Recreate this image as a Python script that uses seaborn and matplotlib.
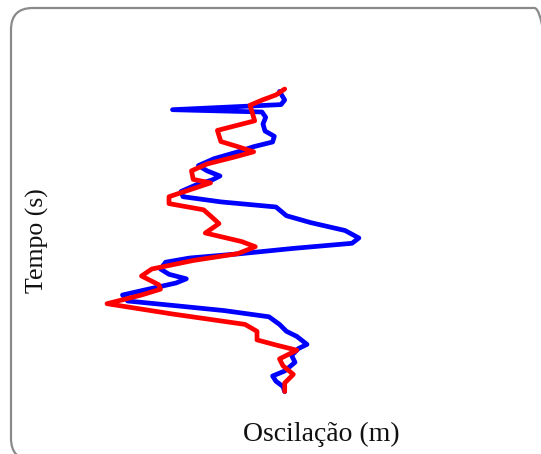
import pandas as pd
import matplotlib.pyplot as plt
import seaborn as sns
from matplotlib.patches import FancyBboxPatch

# values (oscillation across, time downwards)
blue_osc = [279.5, 284.7, 281, 172.5, 262, 265.7, 263, 265, 274.3, 272.6, 253.6, 238, 214,
            198.4, 207, 220, 212, 196.7, 181, 183, 221, 276, 286.4, 310.6, 345, 358.9, 352,
            293.3, 241.5, 189.8, 165.6, 160.5, 169, 186.3, 176, 145, 122.5, 127.7, 172.5,
            224.3, 269, 279.5, 286.4, 296.8, 307, 298.5, 291.6, 295, 284.7, 272.6, 276, 283, 284.7]
blue_time = [91.4, 100, 104.6, 109.7, 112, 117.3, 124, 131, 136.3, 142, 146.7, 151.8, 158.7,
             165.6, 170.8, 176, 180, 184.6, 191.5, 196.7, 201.9, 207, 215.7, 222.6, 230.5, 238,
             243.3, 248.4, 253.6, 258, 262.2, 269, 274.3, 278.8, 283, 289.9, 295, 301, 305.4,
             310.6, 316.8, 324.4, 331.3, 336.4, 344.4, 348.5, 355.4, 362.3, 371, 376, 381.3, 386.5, 391.6]

red_osc = [284.7, 276, 262.3, 250, 252, 254.7, 241.5, 217.4, 220.8, 238, 253.6, 234.6, 207,
           191.5, 193.2, 210.5, 189.8, 169, 169, 203.6, 212.2, 219, 205.3, 241.5, 255.3, 238,
           193.2, 151.8, 141.5, 158.7, 160.5, 141.5, 107, 172.5, 245, 257, 257, 276, 296.8,
           279.5, 283, 293.3, 284.7, 284.7]
red_time = [89, 94.9, 100, 105.2, 112, 120.8, 124.2, 130.4, 141.5, 146.7, 151.8, 157, 164,
            170.8, 179.4, 182.9, 189.8, 196.7, 203.6, 209.8, 217.4, 223.6, 233, 241.5, 246.7,
            253.6, 260.5, 269, 276, 284.7, 289.2, 295, 303.7, 314, 324.4, 331.3, 339.9, 345,
            350.2, 358.9, 365.8, 374.4, 383, 391.6]

df_blue = pd.DataFrame({'osc': blue_osc, 'tempo': blue_time})
df_red = pd.DataFrame({'osc': red_osc, 'tempo': red_time})

sns.set_style('white')
plt.rcParams['font.family'] = ['Liberation Serif', 'DejaVu Serif']

fig = plt.figure(figsize=(5.41, 4.54), dpi=100)
ax = fig.add_axes([0, 0, 1, 1])

line_kw = dict(sort=False, estimator=None, linewidth=3.4,
               solid_joinstyle='round', solid_capstyle='round', ax=ax)
sns.lineplot(data=df_blue, x='osc', y='tempo', color='#0000ff', **line_kw)
sns.lineplot(data=df_red, x='osc', y='tempo', color='#ff0000', **line_kw)

ax.set_xlim(0, 541)
ax.set_ylim(454, 0)
ax.axis('off')

# rounded frame
frame = FancyBboxPatch((11 / 541, 1 - 460 / 454), 545 / 541, 452 / 454,
                       boxstyle='round,pad=0,rounding_size=0.04',
                       transform=fig.transFigure, fill=False,
                       edgecolor='#8a8a8a', linewidth=1.6, mutation_aspect=541 / 454)
fig.patches.append(frame)

fig.text(37 / 541, 1 - 241 / 454, 'Tempo (s)', rotation=90, ha='center', va='center',
         fontsize=18.5, color='#111111')
fig.text(321 / 541, 1 - 434 / 454, 'Oscilação (m)', ha='center', va='center',
         fontsize=20, color='#111111')

plt.savefig('out.png', dpi=100)
